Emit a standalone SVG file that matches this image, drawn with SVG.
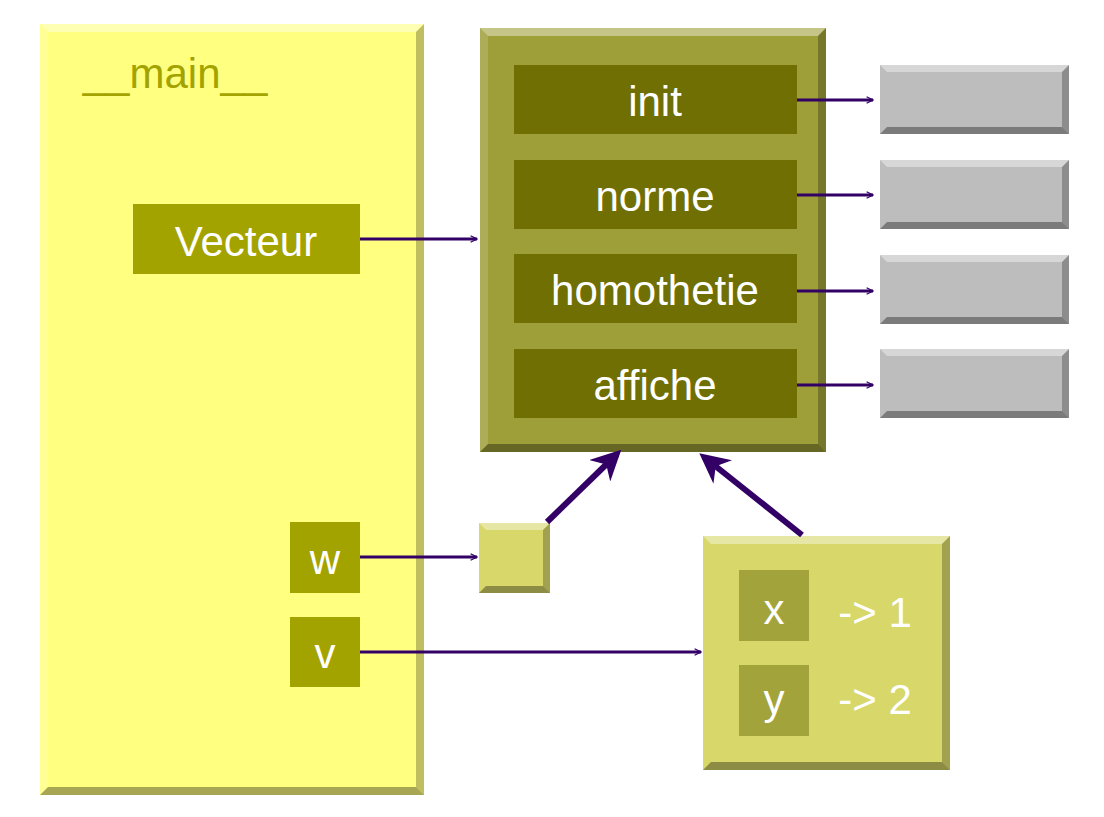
<svg xmlns="http://www.w3.org/2000/svg" width="1104" height="817" viewBox="0 0 1104 817">
<style>
.t{font-family:"Liberation Sans",Arial,sans-serif;fill:#fff;text-anchor:middle}
.hi{fill:#fff;opacity:.4}.lf{fill:#fff;opacity:.15}.rt{fill:#000;opacity:.25}.bt{fill:#000;opacity:.35}
.c{stroke:#330066;stroke-width:3;fill:none}
.c2{stroke:#330066;stroke-width:6;fill:none}
</style>
<defs>
<marker id="a" viewBox="0 0 10 10" refX="9" refY="5" markerWidth="8" markerHeight="8" markerUnits="userSpaceOnUse" orient="auto"><path d="M1,1 L9,5 L1,9" fill="none" stroke="#330066" stroke-width="1.6"/></marker>
<marker id="b" viewBox="0 0 10 10" refX="8" refY="5" markerWidth="5" markerHeight="5" orient="auto"><path d="M0,0 L10,5 L0,10 L3,5 Z" fill="#330066"/></marker>
</defs>
<g id="main">
<rect x="40" y="24" width="384" height="771" fill="#ffff80"/>
<polygon class="hi" points="40,24 424,24 416,32 48,32"/><polygon class="lf" points="40,24 48,32 48,787 40,795"/>
<polygon class="rt" points="424,24 424,795 416,787 416,32"/><polygon class="bt" points="40,795 424,795 416,787 48,787"/>
<text class="t" x="175" y="88" font-size="42" style="fill:#a3a300">__main__</text>
</g>
<g id="vecteur"><rect x="133" y="204" width="227" height="70" fill="#a3a300"/><text class="t" x="246" y="256" font-size="42">Vecteur</text></g>
<g id="w"><rect x="290" y="522" width="70" height="71" fill="#a3a300"/><text class="t" x="325" y="574" font-size="42">w</text></g>
<g id="v"><rect x="290" y="617" width="70" height="70" fill="#a3a300"/><text class="t" x="325" y="668" font-size="42">v</text></g>
<g id="classe">
<rect x="480" y="28" width="346" height="424" fill="#9f9f3a"/>
<polygon class="hi" points="480,28 826,28 818,36 488,36"/><polygon class="lf" points="480,28 488,36 488,444 480,452"/>
<polygon class="rt" points="826,28 826,452 818,444 818,36"/><polygon class="bt" points="480,452 826,452 818,444 488,444"/>
<rect x="514" y="65" width="283" height="69" fill="#6f6f04"/><text class="t" x="655" y="116" font-size="42">init</text>
<rect x="514" y="160" width="283" height="69" fill="#6f6f04"/><text class="t" x="655" y="211" font-size="42">norme</text>
<rect x="514" y="254" width="283" height="69" fill="#6f6f04"/><text class="t" x="655" y="305" font-size="42">homothetie</text>
<rect x="514" y="349" width="283" height="69" fill="#6f6f04"/><text class="t" x="655" y="400" font-size="42">affiche</text>
</g>
<g id="f1"><rect x="880" y="65" width="189" height="69" fill="#bdbdbd"/><polygon class="hi" points="880,65 1069,65 1062,72 887,72"/><polygon class="rt" points="1069,65 1069,134 1062,127 1062,72"/><polygon class="bt" points="880,134 1069,134 1062,127 887,127"/></g>
<g id="f2"><rect x="880" y="160" width="189" height="69" fill="#bdbdbd"/><polygon class="hi" points="880,160 1069,160 1062,167 887,167"/><polygon class="rt" points="1069,160 1069,229 1062,222 1062,167"/><polygon class="bt" points="880,229 1069,229 1062,222 887,222"/></g>
<g id="f3"><rect x="880" y="255" width="189" height="69" fill="#bdbdbd"/><polygon class="hi" points="880,255 1069,255 1062,262 887,262"/><polygon class="rt" points="1069,255 1069,324 1062,317 1062,262"/><polygon class="bt" points="880,324 1069,324 1062,317 887,317"/></g>
<g id="f4"><rect x="880" y="349" width="189" height="69" fill="#bdbdbd"/><polygon class="hi" points="880,349 1069,349 1062,356 887,356"/><polygon class="rt" points="1069,349 1069,418 1062,411 1062,356"/><polygon class="bt" points="880,418 1069,418 1062,411 887,411"/></g>
<g id="ref"><rect x="479" y="523" width="71" height="70" fill="#d7d76a"/><polygon class="hi" points="479,523 550,523 543,530 486,530"/><polygon class="rt" points="550,523 550,593 543,586 543,530"/><polygon class="bt" points="479,593 550,593 543,586 486,586"/></g>
<g id="obj">
<rect x="703" y="536" width="247" height="234" fill="#d7d76a"/>
<polygon class="hi" points="703,536 950,536 942,544 711,544"/><polygon class="rt" points="950,536 950,770 942,762 942,544"/><polygon class="bt" points="703,770 950,770 942,762 711,762"/>
<rect x="739" y="570" width="70" height="71" fill="#a3a33c"/><text class="t" x="774" y="624" font-size="42">x</text>
<text class="t" x="875" y="627" font-size="42">-&gt; 1</text>
<rect x="739" y="665" width="70" height="71" fill="#a3a33c"/><text class="t" x="774" y="714" font-size="42">y</text>
<text class="t" x="875" y="714" font-size="42">-&gt; 2</text>
</g>
<g id="connectors">
<path class="c" d="M360,239 H477" marker-end="url(#a)"/>
<path class="c" d="M360,557 H477" marker-end="url(#a)"/>
<path class="c" d="M360,652 H701" marker-end="url(#a)"/>
<path class="c" d="M797,100 H873" marker-end="url(#a)"/>
<path class="c" d="M797,195 H873" marker-end="url(#a)"/>
<path class="c" d="M797,291 H873" marker-end="url(#a)"/>
<path class="c" d="M797,385 H873" marker-end="url(#a)"/>
<path class="c2" d="M547,522 L617,454" marker-end="url(#b)"/>
<path class="c2" d="M802,535 L704,457" marker-end="url(#b)"/>
</g>
</svg>
